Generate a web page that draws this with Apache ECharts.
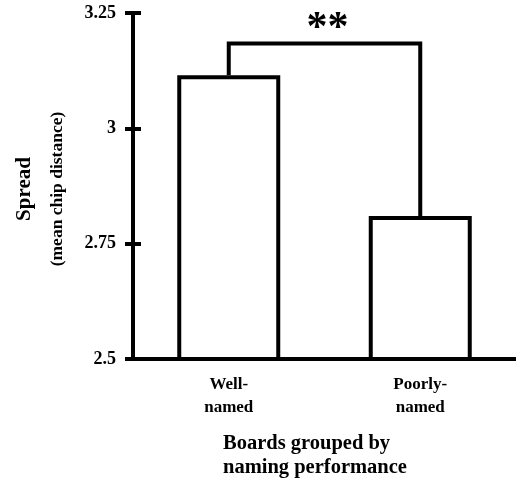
<!DOCTYPE html>
<html>
<head>
<meta charset="utf-8">
<script src="https://cdn.jsdelivr.net/npm/echarts@6/dist/echarts.min.js"></script>
<style>
  html, body { margin: 0; padding: 0; background: #fff; }
  #chart { width: 516px; height: 479px; }
</style>
</head>
<body>
<div id="chart"></div>
<script>
// Mean spread per board group
const categories = ['Well-\nnamed', 'Poorly-\nnamed'];
const spreadValues = [3.115, 2.81];
// Significance bracket level and marker
const bracketLevel = 3.184;
const significance = '**';
// Value axis range
const yMin = 2.5;
const yMax = 3.25;
const yStep = 0.25;

const serif = "'Liberation Serif', 'Times New Roman', serif";
const ink = '#000';

const chart = echarts.init(document.getElementById('chart'));

const valueAxisBase = {
  type: 'value',
  min: yMin,
  max: yMax,
  interval: yStep,
  position: 'left',
  offset: 0,
  splitLine: { show: false }
};

chart.setOption({
  animation: false,
  backgroundColor: '#fff',
  grid: {
    left: 133, right: 0, top: 13, bottom: 120,
    containLabel: false, outerBoundsMode: 'none'
  },
  xAxis: {
    type: 'category',
    data: categories,
    axisLine: { lineStyle: { color: ink, width: 4 } },
    axisTick: { show: false },
    axisLabel: {
      color: ink, fontFamily: serif, fontWeight: 'bold', fontSize: 17,
      lineHeight: 23, margin: 14
    }
  },
  yAxis: [
    Object.assign({}, valueAxisBase, {
      axisLine: { show: true, lineStyle: { color: ink, width: 4 } },
      axisTick: { show: true, inside: false, length: 8, lineStyle: { color: ink, width: 4 } },
      axisLabel: {
        color: ink, fontFamily: serif, fontWeight: 'bold', fontSize: 18, margin: 17
      },
      name: '{a|Spread}\n{b|(mean chip distance)}',
      nameLocation: 'middle',
      nameRotate: 90,
      nameGap: 61,
      nameTextStyle: {
        color: ink, fontFamily: serif, fontWeight: 'bold',
        padding: [0, 6, 0, 0],
        rich: {
          a: { fontFamily: serif, fontWeight: 'bold', fontSize: 21, lineHeight: 34, color: ink },
          b: { fontFamily: serif, fontWeight: 'bold', fontSize: 17.5, lineHeight: 30, color: ink }
        }
      }
    }),
    Object.assign({}, valueAxisBase, {
      axisLine: { show: false },
      axisTick: { show: true, inside: true, length: 8, lineStyle: { color: ink, width: 4 } },
      axisLabel: { show: false }
    })
  ],
  graphic: [{
    type: 'text',
    left: 223,
    top: 432,
    style: {
      text: 'Boards grouped by\nnaming performance',
      font: 'bold 20.5px ' + serif,
      lineHeight: 24,
      fill: ink,
      textAlign: 'left'
    }
  }],
  series: [
    {
      type: 'bar',
      data: spreadValues,
      barWidth: 103,
      itemStyle: { color: '#fff', borderColor: ink, borderWidth: 4 },
      z: 2
    },
    {
      type: 'custom',
      data: [[0, 1, spreadValues[0], spreadValues[1], bracketLevel]],
      renderItem: function (params, api) {
        const a = api.coord([api.value(0), api.value(2)]);
        const aTop = api.coord([api.value(0), api.value(4)]);
        const bTop = api.coord([api.value(1), api.value(4)]);
        const b = api.coord([api.value(1), api.value(3)]);
        return {
          type: 'group',
          children: [
            {
              type: 'polyline',
              shape: { points: [a, aTop, bTop, b] },
              style: { stroke: ink, lineWidth: 4, fill: null, lineJoin: 'miter' }
            },
            {
              type: 'text',
              x: (aTop[0] + bTop[0]) / 2 + 3,
              y: aTop[1] + 7,
              style: {
                text: significance,
                font: 'bold 42px ' + serif,
                fill: ink,
                textAlign: 'center',
                textVerticalAlign: 'bottom'
              }
            }
          ]
        };
      },
      z: 3
    }
  ]
});
</script>
</body>
</html>
